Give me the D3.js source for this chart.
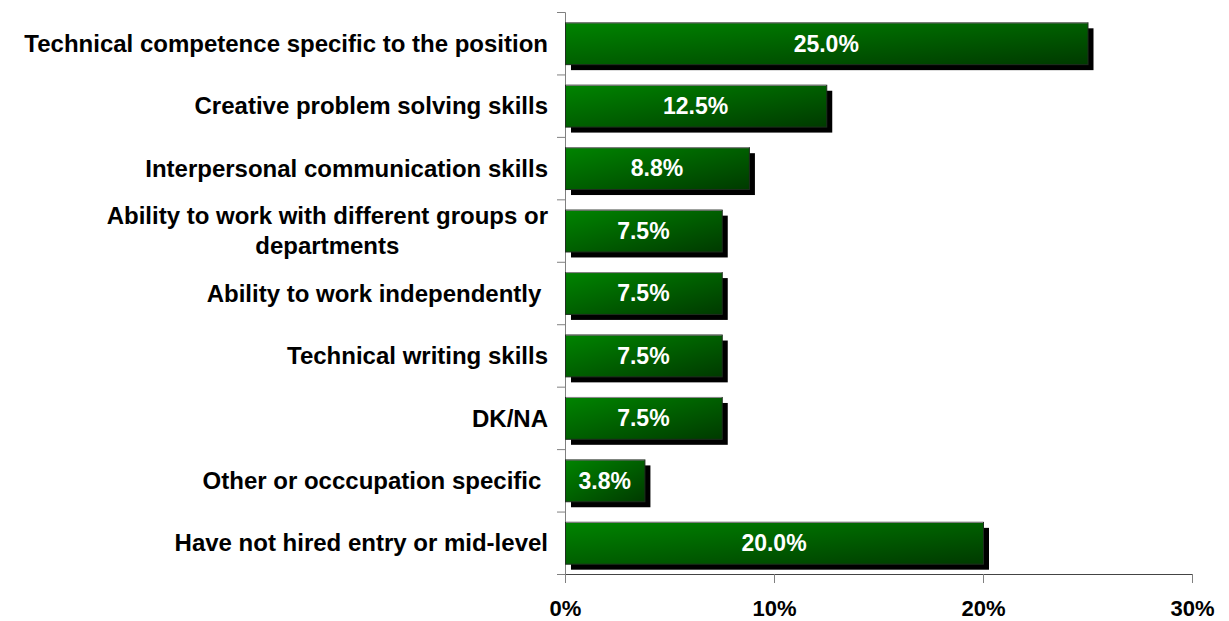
<!DOCTYPE html>
<meta charset="utf-8">
<script src="https://d3js.org/d3.v7.min.js"></script>
<style>
  body { margin: 0; background: #fff; }
  text { font-family: "Liberation Sans", Arial, sans-serif; font-weight: bold; }
</style>
<div id="my_dataviz"></div>
<script>
// chart values
var categories = [
  ["Technical competence specific to the position"],
  ["Creative problem solving skills"],
  ["Interpersonal communication skills"],
  ["Ability to work with different groups or", "departments"],
  ["Ability to work independently "],
  ["Technical writing skills"],
  ["DK/NA"],
  ["Other or occcupation specific "],
  ["Have not hired entry or mid-level"]
];
var values = [25.0, 12.5, 8.8, 7.5, 7.5, 7.5, 7.5, 3.8, 20.0];
var xTicks = [0, 10, 20, 30];

var W = 1229, H = 621;
var margin = {top: 12, left: 565, right: 37, bottom: 47};

var svg = d3.select("#my_dataviz")
  .append("svg")
    .attr("width", W)
    .attr("height", H);

var defs = svg.append("defs");
var grad = defs.append("linearGradient")
    .attr("id", "barGrad")
    .attr("x1", 0).attr("y1", 0).attr("x2", 1).attr("y2", 1);
grad.append("stop").attr("offset", "0%").attr("stop-color", "#008400");
grad.append("stop").attr("offset", "100%").attr("stop-color", "#003a00");

// scales
var x = d3.scaleLinear()
  .domain([0, 30])
  .range([margin.left, W - margin.right]);

var idx = d3.range(categories.length);
var y = d3.scaleBand()
  .domain(idx)
  .range([margin.top, H - margin.bottom])
  .paddingInner(0.33)
  .paddingOuter(0.165);

var yEdges = d3.scaleLinear()
  .domain([0, categories.length])
  .range([margin.top, H - margin.bottom]);

// y axis with ticks at category boundaries
svg.append("g")
  .attr("transform", "translate(" + margin.left + ",0)")
  .call(d3.axisLeft(yEdges).tickValues(d3.range(categories.length + 1)).tickSize(8).tickFormat(""))
  .call(function(g) {
    g.select(".domain").attr("stroke", "#808080");
    g.selectAll(".tick line").attr("stroke", "#808080");
  });

// x axis
svg.append("g")
  .attr("transform", "translate(0," + (H - margin.bottom) + ")")
  .call(d3.axisBottom(x).tickValues(xTicks).tickSize(9).tickPadding(17).tickFormat(function(d) { return d + "%"; }))
  .call(function(g) {
    g.select(".domain").attr("stroke", "#444");
    g.selectAll(".tick line").attr("stroke", "#808080");
    g.selectAll(".tick text")
      .attr("fill", "#000")
      .style("font-size", "22px")
      .style("font-family", "'Liberation Sans', Arial, sans-serif")
      .style("font-weight", "bold");
  });

// shadows
svg.selectAll(".shadow")
  .data(idx)
  .enter()
  .append("rect")
    .attr("class", "shadow")
    .attr("x", x(0) + 6)
    .attr("y", function(i) { return y(i) + 6; })
    .attr("width", function(i) { return x(values[i]) - x(0); })
    .attr("height", y.bandwidth())
    .attr("fill", "#000");

// bars
svg.selectAll(".bar")
  .data(idx)
  .enter()
  .append("rect")
    .attr("class", "bar")
    .attr("x", x(0) + 0.5)
    .attr("y", function(i) { return y(i) + 0.5; })
    .attr("width", function(i) { return x(values[i]) - x(0); })
    .attr("height", y.bandwidth())
    .attr("fill", "url(#barGrad)")
    .attr("stroke", "#1e2e1e")
    .attr("stroke-width", 1);

// top highlight
svg.selectAll(".hl")
  .data(idx)
  .enter()
  .append("line")
    .attr("x1", x(0) + 1)
    .attr("x2", function(i) { return x(values[i]); })
    .attr("y1", function(i) { return y(i) + 0.5; })
    .attr("y2", function(i) { return y(i) + 0.5; })
    .attr("stroke", "#8a8a8a")
    .attr("stroke-width", 1);

// value labels
svg.selectAll(".val")
  .data(idx)
  .enter()
  .append("text")
    .attr("x", function(i) { return (x(0) + x(values[i])) / 2; })
    .attr("y", function(i) { return y(i) + y.bandwidth() / 2; })
    .attr("dy", "0.36em")
    .attr("text-anchor", "middle")
    .attr("fill", "#fff")
    .style("font-size", "23px")
    .text(function(i) { return values[i].toFixed(1) + "%"; });

// category labels: block right-aligned, lines centered within block
var labelRight = 548;
var lineH = 30;
var lab = svg.selectAll(".cat")
  .data(idx)
  .enter()
  .append("text")
    .attr("class", "cat")
    .attr("fill", "#000")
    .style("font-size", "24px")
    .style("white-space", "pre");

lab.each(function(i) {
  var t = d3.select(this);
  var lines = categories[i];
  var cy = y(i) + y.bandwidth() / 2;
  lines.forEach(function(s, k) {
    t.append("tspan")
      .attr("y", cy + (k - (lines.length - 1) / 2) * lineH)
      .attr("dy", "0.36em")
      .text(s);
  });
  var maxW = 0;
  t.selectAll("tspan").each(function() { maxW = Math.max(maxW, this.getComputedTextLength()); });
  t.selectAll("tspan")
    .attr("x", labelRight - maxW / 2)
    .attr("text-anchor", "middle");
});
</script>
